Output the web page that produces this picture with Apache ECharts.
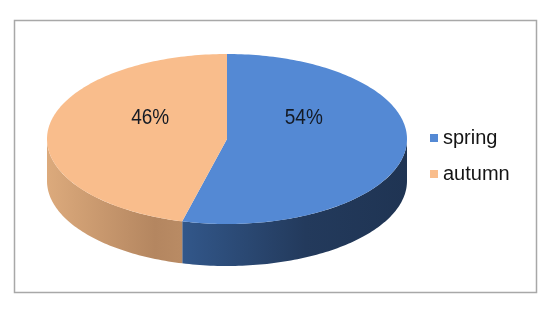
<!DOCTYPE html>
<html>
<head>
<meta charset="utf-8">
<script src="https://cdn.jsdelivr.net/npm/echarts@6/dist/echarts.min.js"></script>
<style>
html,body{margin:0;padding:0;background:#fff;}
#chart{width:550px;height:311px;}
</style>
</head>
<body>
<div id="chart"></div>
<script>
// ---- data ----
var seasonNames = ['spring', 'autumn'];
var seasonValues = [54, 46];
var topColors = ['#5489d4', '#f9bd8c'];
var sideStops = [
  [[0, '#32578a'], [0.55, '#233a5c'], [1, '#1f3453']],
  [[0, '#dcaa7c'], [0.8, '#b48660'], [1, '#b98b64']]
];

var total = seasonValues.reduce(function (a, b) { return a + b; }, 0);
var font = 'Liberation Sans, Arial, sans-serif';

// pie geometry (layout)
var CX = 227, CY = 139, RX = 180, RY = 85, DEPTH = 42;

function pt(theta, dy) {
  return [CX + RX * Math.sin(theta), CY - RY * Math.cos(theta) + (dy || 0)];
}

function arcPoints(a, b, dy) {
  var pts = [];
  var n = Math.max(2, Math.ceil(Math.abs(b - a) / 0.02));
  for (var i = 0; i <= n; i++) {
    pts.push(pt(a + (b - a) * i / n, dy));
  }
  return pts;
}

function renderItem(params, api) {
  var idx = params.dataIndex;
  var value = api.value(0);
  var before = 0;
  for (var i = 0; i < idx; i++) before += seasonValues[i];
  var a = before / total * Math.PI * 2;
  var b = (before + value) / total * Math.PI * 2;
  var children = [];

  // visible side wall: front half (theta in [PI/2, 3PI/2])
  var sa = Math.max(a, Math.PI / 2), sb = Math.min(b, Math.PI * 1.5);
  if (sb > sa) {
    var topArc = arcPoints(sa, sb, 0);
    var botArc = arcPoints(sb, sa, DEPTH);
    children.push({
      type: 'polygon',
      z2: 1,
      shape: { points: topArc.concat(botArc) },
      style: {
        fill: new echarts.graphic.LinearGradient(0, 0, 1, 0,
          sideStops[idx].map(function (s) { return { offset: s[0], color: s[1] }; })),
        stroke: null
      }
    });
  }

  // top face
  var topPts = [[CX, CY]].concat(arcPoints(a, b, 0));
  children.push({
    type: 'polygon',
    z2: 2,
    shape: { points: topPts },
    style: { fill: topColors[idx], stroke: null }
  });

  // label
  var mid = (a + b) / 2;
  var pct = Math.round(value / total * 100) + '%';
  children.push({
    type: 'text',
    z2: 3,
    x: CX + 0.43 * RX * Math.sin(mid),
    y: CY - 0.24 * RY,
    scaleY: 1.12,
    style: {
      text: pct,
      x: 0,
      y: 0,
      fill: '#141a24',
      font: '19px ' + font,
      align: 'center',
      verticalAlign: 'middle'
    }
  });

  return { type: 'group', children: children };
}

var chart = echarts.init(document.getElementById('chart'), null, { renderer: 'canvas' });
chart.setOption({
  backgroundColor: '#ffffff',
  animation: false,
  graphic: [{
    type: 'rect',
    shape: { x: 14.5, y: 20.5, width: 522, height: 272 },
    style: { fill: null, stroke: '#a8a8a8', lineWidth: 1.5 },
    z: -1
  }],
  legend: {
    orient: 'vertical',
    left: 425,
    top: 123,
    icon: 'rect',
    itemWidth: 8,
    itemHeight: 8,
    itemGap: 16,
    data: seasonNames,
    textStyle: { fontSize: 20, fontFamily: font, color: '#141414' },
    selectedMode: false
  },
  series: [
    {
      type: 'custom',
      name: 'pie3d',
      coordinateSystem: 'none',
      renderItem: renderItem,
      data: seasonValues.map(function (v) { return [v]; }),
      silent: true
    },
    {
      // carries the legend entries
      type: 'pie',
      name: 'legendPie',
      radius: [0, 0],
      center: [-100, -100],
      silent: true,
      label: { show: false },
      labelLine: { show: false },
      data: seasonNames.map(function (n, i) {
        return { name: n, value: seasonValues[i], itemStyle: { color: topColors[i] } };
      })
    }
  ]
});
</script>
</body>
</html>
